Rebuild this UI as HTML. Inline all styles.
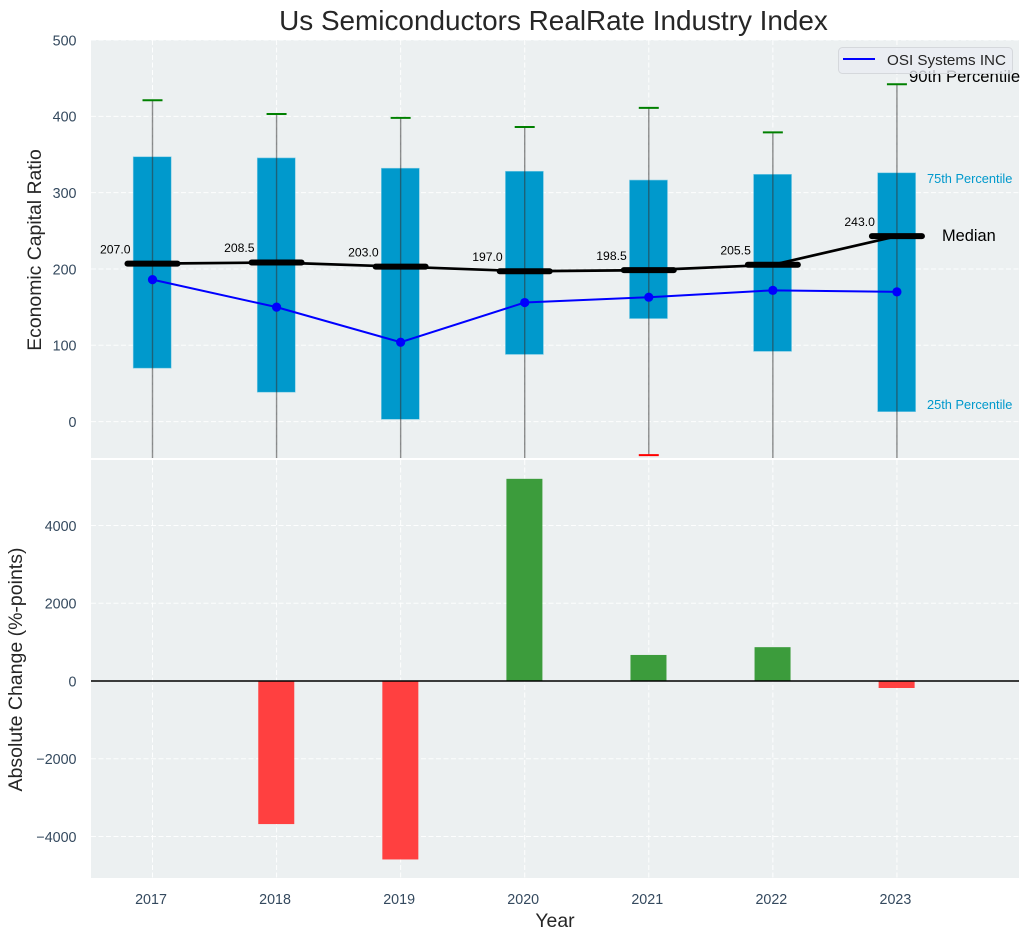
<!DOCTYPE html>
<html lang="en">
<head>
<meta charset="utf-8">
<title>Us Semiconductors RealRate Industry Index</title>
<style>
html,body{margin:0;padding:0;background:#fff;width:1030px;height:940px;overflow:hidden}
svg{display:block;font-family:"Liberation Sans",Arial,sans-serif}
</style>
</head>
<body>
<svg id="chart" xmlns="http://www.w3.org/2000/svg" width="1030" height="940" viewBox="0 0 1030 940">
<defs>
<clipPath id="top-clip"><rect x="91" y="40" width="928" height="418"></rect></clipPath>
<clipPath id="bottom-clip"><rect x="91" y="460" width="928" height="418"></rect></clipPath>
</defs>
<text x="553.5" y="30" text-anchor="middle" font-size="27.9" fill="#262626">Us Semiconductors RealRate Industry Index</text>
<rect x="91" y="40" width="928" height="418" fill="#ecf0f1"></rect>
<rect x="91" y="460" width="928" height="418" fill="#ecf0f1"></rect>
<g id="top-grid"></g>
<g id="bottom-grid"></g>
<g id="top-marks" clip-path="url(#top-clip)"></g>
<g id="bottom-marks" clip-path="url(#bottom-clip)"></g>
<g id="tick-labels"></g>
<text x="555" y="927" text-anchor="middle" font-size="19.4" fill="#262626">Year</text>
<text transform="translate(41,250) rotate(-90)" text-anchor="middle" font-size="19.4" fill="#262626">Economic Capital Ratio</text>
<text transform="translate(22,669.5) rotate(-90)" text-anchor="middle" font-size="19.5" fill="#262626">Absolute Change (%-points)</text>
<text x="909" y="82" font-size="16.67" fill="#000">90th Percentile</text>
<text x="927" y="183" font-size="12.8" fill="#0099cc">75th Percentile</text>
<text x="942" y="241" font-size="16.4" fill="#000">Median</text>
<text x="927" y="409" font-size="12.8" fill="#0099cc">25th Percentile</text>
<g>
<rect x="838.5" y="47.5" width="174" height="26" rx="4" fill="#eaecf2" fill-opacity="0.8" stroke="#d5d8dc"></rect>
<line x1="843" y1="59" x2="875" y2="59" stroke="#0000ff" stroke-width="2"></line>
<text x="887" y="65" font-size="15.2" fill="#262626">OSI Systems INC</text>
</g>
</svg>
<script>
const years = [2017, 2018, 2019, 2020, 2021, 2022, 2023];
const p90 = [421, 403, 398, 386, 411, 379, 442];
const p75 = [347, 345.5, 332, 328, 316.5, 324, 326];
const median = [207, 208.5, 203, 197, 198.5, 205.5, 243];
const p25 = [70, 38.5, 3, 88, 135, 92, 13];
const p10 = [-70, -75, -80, -60, -44, -65, -90];
const company = [186, 150, 104, 156, 163, 172, 170];
const change = [0, -3680, -4590, 5200, 670, 870, -180];
const topTicks = [0, 100, 200, 300, 400, 500];
const bottomTicks = [-4000, -2000, 0, 2000, 4000];

const svgNS = 'http://www.w3.org/2000/svg';
function xScale(v) { return 152.5 + (v - 2017) * 124.07; }
function yTop(v) { return 421.6 - v * 0.7632; }
function yBottom(v) { return 681 - v * 0.03888; }
function make(tag, attrs, parent) {
  const el = document.createElementNS(svgNS, tag);
  Object.keys(attrs).forEach(function (k) { el.setAttribute(k, attrs[k]); });
  parent.appendChild(el);
  return el;
}
const topGrid = document.getElementById('top-grid');
const bottomGrid = document.getElementById('bottom-grid');
const topMarks = document.getElementById('top-marks');
const bottomMarks = document.getElementById('bottom-marks');
const tickLabels = document.getElementById('tick-labels');
const gridStyle = { stroke: '#ffffff', 'stroke-width': 1, 'stroke-dasharray': '5 2.5', 'stroke-opacity': 0.9 };

topTicks.forEach(function (t) {
  const y = yTop(t);
  const g = make('line', Object.assign({ x1: 91, x2: 1019, y1: y, y2: y }, gridStyle), topGrid);
  
  
  const lab = make('text', { x: 76.5, y: y + 5.3, 'text-anchor': 'end', 'font-size': 14.3, fill: '#34495e' }, tickLabels);
  lab.textContent = String(t);
  
  
});
bottomTicks.forEach(function (t) {
  const y = yBottom(t);
  const g = make('line', Object.assign({ x1: 91, x2: 1019, y1: y, y2: y }, gridStyle), bottomGrid);
  
  
  const lab = make('text', { x: 76.5, y: y + 5.3, 'text-anchor': 'end', 'font-size': 14.3, fill: '#34495e' }, tickLabels);
  lab.textContent = String(t).replace('-', '\u2212');
  
  
});
years.forEach(function (yr) {
  const x = xScale(yr);
  const g1 = make('line', Object.assign({ x1: x, x2: x, y1: 40, y2: 458 }, gridStyle), topGrid);
  
  
  const g2 = make('line', Object.assign({ x1: x, x2: x, y1: 460, y2: 878 }, gridStyle), bottomGrid);
  
  
  const lab = make('text', { x: x - 1.5, y: 904, 'text-anchor': 'middle', 'font-size': 14.3, fill: '#34495e' }, tickLabels);
  lab.textContent = String(yr);
  
  
});

years.forEach(function (yr, i) {
  const x = xScale(yr);
  const boxTop = yTop(p75[i]);
  const boxBottom = yTop(p25[i]);
  const box = make('rect', { x: x - 19.3, y: boxTop, width: 38, height: boxBottom - boxTop, fill: '#0099cc', stroke: '#7fcce5', 'stroke-width': 0.6 }, topMarks);
  
  
  const whisker = make('line', { x1: x, x2: x, y1: yTop(p90[i]), y2: yTop(p10[i]), stroke: '#333333', 'stroke-opacity': 0.55, 'stroke-width': 1.4 }, topMarks);
  
  
  const capHigh = make('line', { x1: x - 10, x2: x + 10, y1: yTop(p90[i]), y2: yTop(p90[i]), stroke: '#008000', 'stroke-width': 2 }, topMarks);
  
  
  const capLow = make('line', { x1: x - 10, x2: x + 10, y1: yTop(p10[i]), y2: yTop(p10[i]), stroke: '#ff0000', 'stroke-width': 2 }, topMarks);
  
  
});

const medianPoints = years.map(function (yr, i) { return xScale(yr) + ',' + yTop(median[i]); }).join(' ');
const medianLine = make('polyline', { points: medianPoints, fill: 'none', stroke: '#000', 'stroke-width': 2.7 }, topMarks);


years.forEach(function (yr, i) {
  const x = xScale(yr);
  const y = yTop(median[i]);
  const seg = make('line', { x1: x - 25, x2: x + 25, y1: y, y2: y, stroke: '#000', 'stroke-width': 6, 'stroke-linecap': 'round' }, topMarks);
  
  
  const lab = make('text', { x: x - 22, y: y - 10.3, 'text-anchor': 'end', 'font-size': 12.2, fill: '#000' }, topMarks);
  lab.textContent = median[i].toFixed(1);
  
  
});

const companyPoints = years.map(function (yr, i) { return xScale(yr) + ',' + yTop(company[i]); }).join(' ');
const companyLine = make('polyline', { points: companyPoints, fill: 'none', stroke: '#0000ff', 'stroke-width': 2 }, topMarks);


years.forEach(function (yr, i) {
  const pt = make('circle', { cx: xScale(yr), cy: yTop(company[i]), r: 4.6, fill: '#0000ff' }, topMarks);
  
  
});

years.forEach(function (yr, i) {
  if (change[i] === 0) return;
  const x = xScale(yr);
  const y0 = yBottom(0);
  const y1 = yBottom(change[i]);
  const bar = make('rect', { x: x - 18.3, y: Math.min(y0, y1), width: 36, height: Math.abs(y1 - y0), fill: change[i] > 0 ? '#3c9c3c' : '#ff4040' }, bottomMarks);
  
  
});
const zeroLine = make('line', { x1: 91, x2: 1019, y1: yBottom(0), y2: yBottom(0), stroke: '#000', 'stroke-width': 1.6 }, bottomMarks);


</script>
</body>
</html>
